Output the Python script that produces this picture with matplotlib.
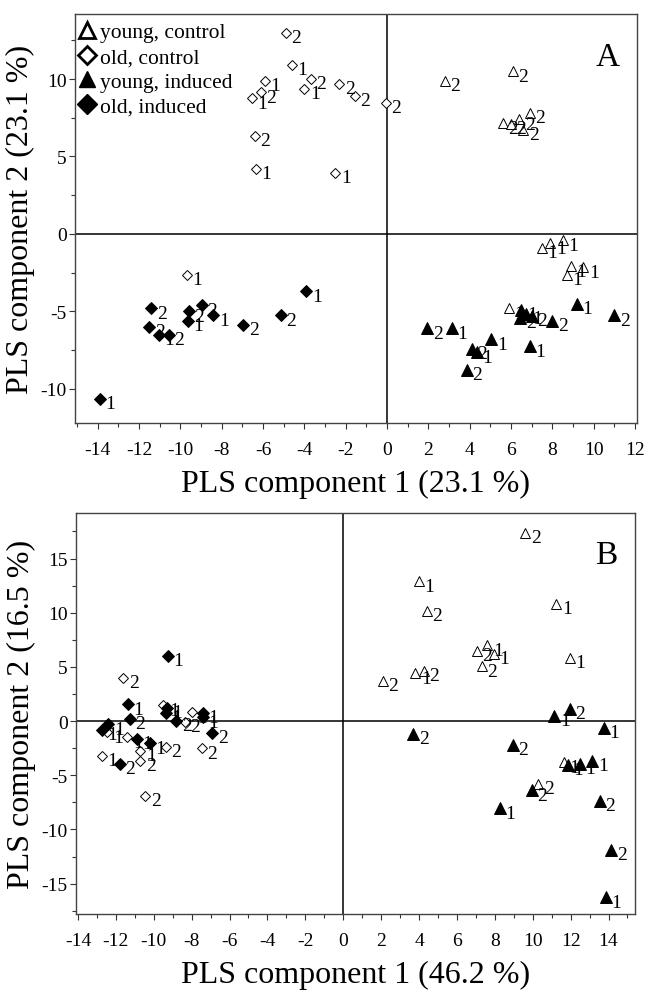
import matplotlib
matplotlib.use("Agg")
from matplotlib import pyplot as plt
from matplotlib.lines import Line2D
from matplotlib.ticker import MultipleLocator

plt.rcParams["font.family"] = ["Liberation Serif", "DejaVu Serif"]
plt.rcParams["axes.unicode_minus"] = False

# ---- panel A data ----
a_yc_x = [2.8, 6.1, 5.6, 6.0, 6.4, 6.9, 6.6, 7.5, 7.9, 8.5, 8.9, 9.5, 8.7, 5.9]
a_yc_y = [9.9, 10.5, 7.15, 7.1, 7.4, 7.8, 6.7, -0.9, -0.6, -0.4, -2.1, -2.15, -2.65, -4.8]
a_yc_lbl = ['2', '2', '2', '2', '2', '2', '2', '1', '1', '1', '1', '1', '1', '1']

a_oc_x = [-4.9, -4.6, -5.9, -3.7, -6.1, -6.55, -4.0, -2.3, -1.55, -6.4, -6.35, -2.5, -0.05, -9.7]
a_oc_y = [13.0, 10.9, 9.9, 10.0, 9.15, 8.75, 9.35, 9.7, 8.9, 6.35, 4.2, 3.95, 8.45, -2.65]
a_oc_lbl = ['2', '1', '1', '2', '2', '1', '1', '2', '2', '2', '1', '1', '2', '1']

a_yi_x = [9.2, 11.0, 8.0, 6.5, 6.75, 6.45, 7.0, 1.95, 3.15, 5.05, 4.1, 4.35, 6.9, 3.85]
a_yi_y = [-4.5, -5.25, -5.6, -4.9, -5.15, -5.4, -5.3, -6.1, -6.1, -6.8, -7.4, -7.65, -7.25, -8.75]
a_yi_lbl = ['1', '2', '2', '1', '1', '2', '2', '2', '1', '1', '2', '1', '1', '2']

a_oi_x = [-3.9, -5.15, -6.95, -8.4, -8.95, -9.6, -9.65, -11.4, -11.5, -11.05, -10.55, -13.9]
a_oi_y = [-3.7, -5.25, -5.85, -5.25, -4.6, -5.0, -5.6, -4.8, -6.0, -6.5, -6.5, -10.65]
a_oi_lbl = ['1', '2', '2', '1', '2', '2', '1', '2', '2', '1', '2', '1']

# ---- panel B data ----
b_yc_x = [9.6, 4.0, 4.4, 11.25, 11.95, 7.6, 7.05, 7.95, 2.1, 3.8, 4.25, 7.3, 11.65, 10.3]
b_yc_y = [17.4, 12.9, 10.15, 10.8, 5.85, 7.0, 6.5, 6.2, 3.7, 4.4, 4.65, 5.05, -3.8, -5.8]
b_yc_lbl = ['2', '1', '2', '1', '1', '1', '2', '1', '2', '1', '2', '2', '1', '2']

b_oc_x = [-11.6, -9.5, -8.0, -8.35, -12.45, -11.4, -9.35, -7.45, -12.75, -10.7, -10.7, -10.45]
b_oc_y = [4.0, 1.45, 0.8, -0.05, -1.05, -1.5, -2.35, -2.5, -3.2, -2.75, -3.65, -6.9]
b_oc_lbl = ['2', '1', '1', '2', '1', '1', '2', '2', '1', '1', '2', '2']

b_yi_x = [11.15, 11.95, 13.75, 3.7, 8.95, 11.85, 12.5, 13.15, 9.95, 8.25, 13.55, 14.15, 13.85]
b_yi_y = [0.5, 1.15, -0.6, -1.2, -2.2, -4.05, -3.95, -3.65, -6.4, -8.05, -7.35, -11.9, -16.25]
b_yi_lbl = ['1', '2', '1', '2', '2', '1', '1', '1', '2', '1', '2', '2', '1']

b_oi_x = [-9.25, -11.35, -11.25, -12.4, -12.75, -9.3, -9.35, -8.8, -7.4, -7.4, -6.9, -10.9, -10.2, -11.8]
b_oi_y = [6.0, 1.55, 0.2, -0.3, -0.8, 1.25, 0.75, 0.05, 0.75, 0.35, -1.1, -1.65, -2.05, -3.95]
b_oi_lbl = ['1', '1', '2', '1', '1', '1', '1', '2', '1', '1', '2', '1', '1', '2']

groups = ["young, control", "old, control", "young, induced", "old, induced"]


def drawGroup(ax, xs, ys, labels, marker, filled, ms):
    ax.plot(xs, ys, linestyle="none", marker=marker, ms=ms,
            mfc="black" if filled else "white", mec="black",
            mew=0.7, zorder=3)
    for x, y, t in zip(xs, ys, labels):
        ax.annotate(t, (x, y), xytext=(4, -3.5), textcoords="offset points",
                    ha="left", va="center", fontsize=14, zorder=4)


def styleAxes(ax, xlim, ylim, ymajor, xlabel, ylabel, letter):
    ax.set_xlim(*xlim)
    ax.set_ylim(*ylim)
    ax.axhline(0, color="black", lw=1.1, zorder=1)
    ax.axvline(0, color="black", lw=1.1, zorder=1)
    ax.xaxis.set_major_locator(MultipleLocator(2))
    ax.xaxis.set_minor_locator(MultipleLocator(1))
    ax.yaxis.set_major_locator(MultipleLocator(ymajor))
    ax.yaxis.set_minor_locator(MultipleLocator(ymajor / 2))
    ax.tick_params(which="major", direction="out", length=4, width=0.8,
                   labelsize=14, color="#333333")
    ax.tick_params(which="minor", direction="out", length=3, width=0.8,
                   color="#333333")
    ax.tick_params(axis="x", pad=9)
    ax.tick_params(axis="y", pad=2)
    for s in ax.spines.values():
        s.set_color("#444444")
        s.set_linewidth(1.0)
    ax.set_xlabel(xlabel, fontsize=23, labelpad=8)
    ax.set_ylabel(ylabel, fontsize=23, labelpad=4)
    ax.text(0.948, 0.895, letter, transform=ax.transAxes, fontsize=24,
            ha="center", va="center")


fig = plt.figure(figsize=(6.47, 9.95), dpi=100)

axA = fig.add_axes([0.1159, 0.5739, 0.8686, 0.4111])
drawGroup(axA, a_yc_x, a_yc_y, a_yc_lbl, "^", False, 7)
drawGroup(axA, a_oc_x, a_oc_y, a_oc_lbl, "D", False, 5.5)
drawGroup(axA, a_yi_x, a_yi_y, a_yi_lbl, "^", True, 8)
drawGroup(axA, a_oi_x, a_oi_y, a_oi_lbl, "D", True, 6.5)
styleAxes(axA, (-15.1, 12.1), (-12.2, 14.2), 5,
          "PLS component 1 (23.1 %)", "PLS component 2 (23.1 %)", "A")

handles = [
    Line2D([], [], linestyle="none", marker="^", ms=11, mfc="white", mec="black", mew=2),
    Line2D([], [], linestyle="none", marker="D", ms=9, mfc="white", mec="black", mew=2),
    Line2D([], [], linestyle="none", marker="^", ms=12, mfc="black", mec="black"),
    Line2D([], [], linestyle="none", marker="D", ms=10, mfc="black", mec="black"),
]
axA.legend(handles, groups, loc="upper left", bbox_to_anchor=(0.0, 0.985),
           frameon=False, fontsize=15.5, handlelength=0.9, handletextpad=0.15,
           labelspacing=0.22, borderaxespad=0.0, borderpad=0.1)

axB = fig.add_axes([0.1175, 0.0804, 0.864, 0.403])
drawGroup(axB, b_yc_x, b_yc_y, b_yc_lbl, "^", False, 7)
drawGroup(axB, b_oc_x, b_oc_y, b_oc_lbl, "D", False, 5.5)
drawGroup(axB, b_yi_x, b_yi_y, b_yi_lbl, "^", True, 8)
drawGroup(axB, b_oi_x, b_oi_y, b_oi_lbl, "D", True, 6.5)
styleAxes(axB, (-14.1, 15.4), (-17.8, 19.2), 5,
          "PLS component 1 (46.2 %)", "PLS component 2 (16.5 %)", "B")

fig.savefig("out.png", dpi=100)
